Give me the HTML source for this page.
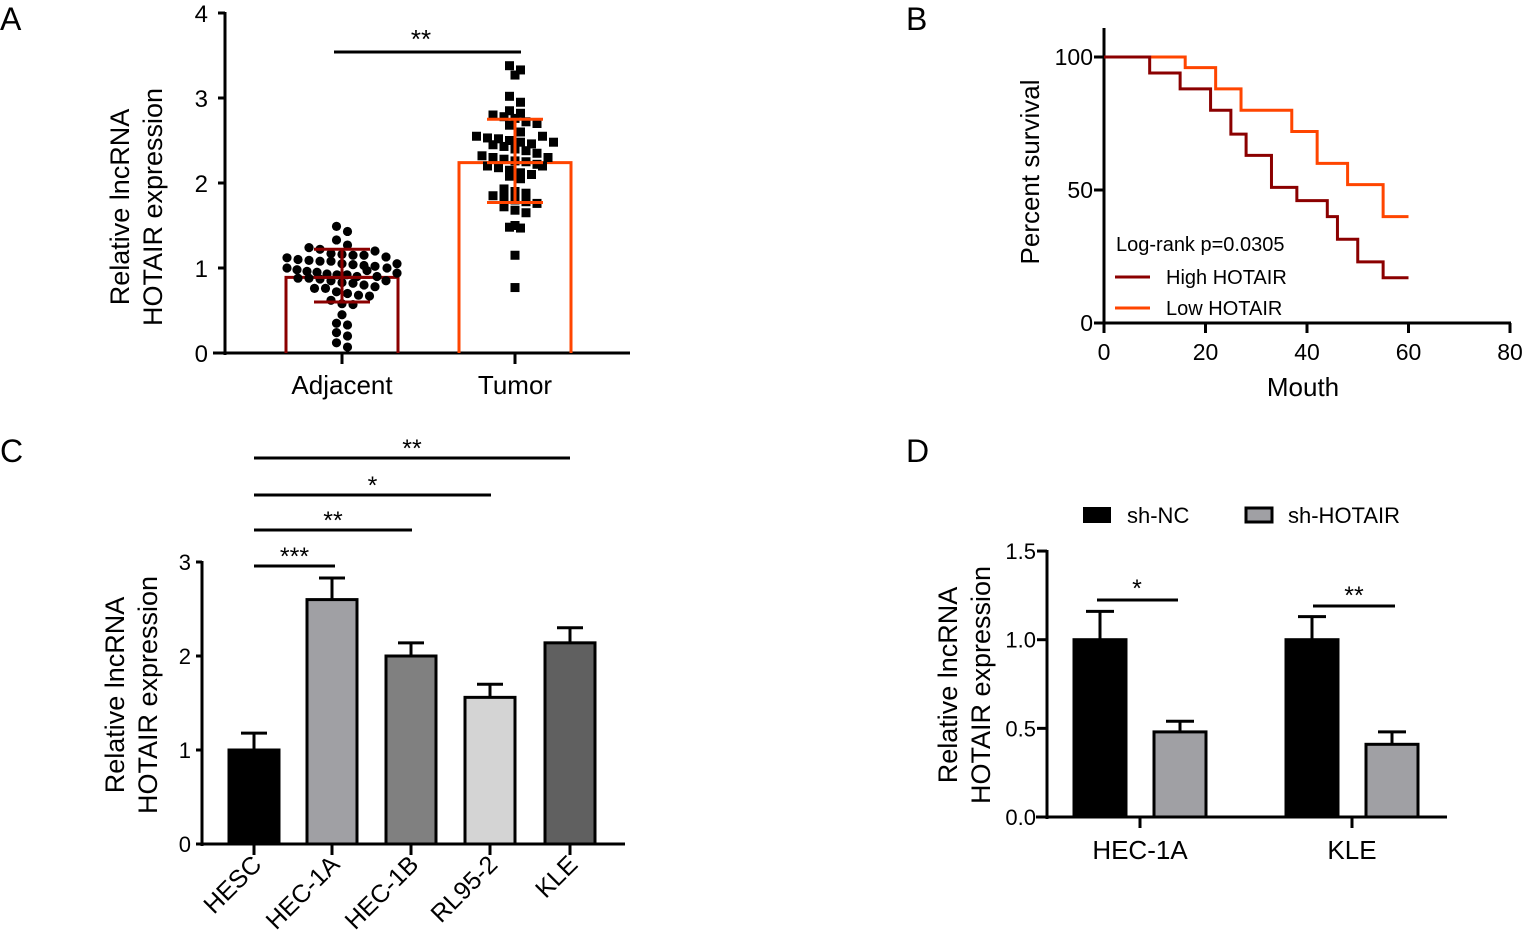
<!DOCTYPE html>
<html><head><meta charset="utf-8"><style>
html,body{margin:0;padding:0;background:#fff;}
svg{display:block;font-family:"Liberation Sans",Arial,sans-serif;}
</style></head><body>
<svg id="fig" width="1524" height="940" viewBox="0 0 1524 940" xmlns="http://www.w3.org/2000/svg">
<g id="A"></g>
<g id="B"></g>
<g id="C"></g>
<g id="D"></g>
</svg>
<script>
// Panel A data
const aGroups = ["Adjacent","Tumor"];
const aMeans = [0.89, 2.24];
const aSdLow = [0.60, 1.77];
const aSdHigh = [1.22, 2.75];
const aTicks = [0,1,2,3,4];
const adjacentPoints = [1.49,1.43,1.33,1.27,1.24,1.22,1.17,1.16,1.15,1.12,1.10,1.09,1.08,1.08,1.05,1.04,1.03,1.02,1.00,0.98,0.96,0.95,0.93,0.92,0.92,0.90,0.88,0.88,0.87,0.85,0.83,0.82,0.80,0.78,0.76,0.76,0.72,0.70,0.68,0.67,0.62,0.58,0.57,0.45,0.35,0.33,0.24,0.20,0.12,0.07,1.15,1.20,1.13,1.05,0.97,0.90,1.00,0.85,0.94];
const tumorPoints = [3.38,3.33,3.27,3.02,2.95,2.85,2.82,2.80,2.78,2.76,2.72,2.70,2.68,2.60,2.55,2.53,2.52,2.50,2.48,2.46,2.45,2.43,2.40,2.38,2.35,2.32,2.30,2.28,2.26,2.25,2.22,2.20,2.18,2.15,2.12,2.10,2.08,2.05,1.93,1.90,1.88,1.85,1.83,1.80,1.78,1.76,1.72,1.68,1.65,1.50,1.48,1.47,1.15,0.77,2.55,2.48,2.30,2.20];
// Panel B data
const highTimes = [0,9,15,21,25,28,33,38,44,46,50,55,60];
const highSurv = [100,94,88,80,71,63,51,46,40,31.5,23,17,17];
const lowTimes = [0,16,22,27,37,42,48,55,60];
const lowSurv = [100,96,88,80,72,60,52,40,40];
const bXTicks = [0,20,40,60,80];
const bYTicks = [0,50,100];
// Panel C data
const cCats = ["HESC","HEC-1A","HEC-1B","RL95-2","KLE"];
const cVals = [1.0,2.6,2.0,1.56,2.14];
const cErr = [0.18,0.23,0.14,0.14,0.16];
const cTicks = [0,1,2,3];
// Panel D data
const dCats = ["HEC-1A","KLE"];
const dNC = [1.0,1.0];
const dNCErr = [0.16,0.13];
const dSH = [0.48,0.41];
const dSHErr = [0.06,0.07];
const dTicks = ["0.0","0.5","1.0","1.5"];

const NS="http://www.w3.org/2000/svg";
function mk(parent,tag,attrs,text){const e=document.createElementNS(NS,tag);for(const k in attrs)e.setAttribute(k,attrs[k]);if(text!==undefined)e.textContent=text;parent.appendChild(e);return e;}
function line(p,x1,y1,x2,y2,c,w){return mk(p,'line',{x1,y1,x2,y2,stroke:c||'#000','stroke-width':w||3});}
function txt(p,x,y,s,size,anchor,extra){const a={x,y,'font-size':size,'text-anchor':anchor||'middle',fill:'#000'};if(extra)for(const k in extra)a[k]=extra[k];return mk(p,'text',a,s);}

// ===== Panel A =====
(function(){
const g=document.getElementById('A');
const y=v=>353-85*v;
let t=txt(g,0,30,'A',32,'start');


line(g,225,12,225,355);
line(g,213,353,630,353);
aTicks.forEach(v=>{line(g,218,y(v),225,y(v));let l=txt(g,208,y(v)+9,String(v),24,'end');

});
const centers=[342,515], half=56, cols=['#8b0000','#ff4500'];
aGroups.forEach((n,i)=>{
  const c=centers[i];
  line(g,c,353,c,364);
  const b=mk(g,'path',{d:`M${c-half},353 V${y(aMeans[i])} H${c+half} V353`,fill:'none',stroke:cols[i],'stroke-width':3});
  
  
  let l=txt(g,c,394,n,26);
  
  
});
function swarm(vals,c,shape){
  const bins={};
  vals.forEach(v=>{const k=Math.round(v/0.12);(bins[k]=bins[k]||[]).push(v);});
  Object.keys(bins).forEach(k=>{
    const arr=bins[k];
    const sp=arr.length>1?Math.min(11,110/(arr.length-1)):0;
    arr.forEach((v,j)=>{
      const off=(j-(arr.length-1)/2)*sp;
      let p;
      if(shape==='c') p=mk(g,'circle',{cx:c+off,cy:y(v),r:4.6,fill:'#000'});
      else p=mk(g,'rect',{x:c+off-4.5,y:y(v)-4.5,width:9,height:9,fill:'#000'});
      
      
    });
  });
}
swarm(adjacentPoints,342,'c');
swarm(tumorPoints,515,'s');
centers.forEach((c,i)=>{
  line(g,c,y(aSdLow[i]),c,y(aSdHigh[i]),cols[i],3);
  line(g,c-28,y(aSdLow[i]),c+28,y(aSdLow[i]),cols[i],3);
  line(g,c-28,y(aSdHigh[i]),c+28,y(aSdHigh[i]),cols[i],3);
  line(g,c-28,y(aMeans[i]),c+28,y(aMeans[i]),cols[i],3);
});
line(g,334,52,521,52,'#000',3);
txt(g,421,48,'**',26);
const yt=mk(g,'text',{transform:'translate(129,207) rotate(-90)','font-size':27,'text-anchor':'middle'});


mk(yt,'tspan',{x:0,y:0},'Relative lncRNA');
mk(yt,'tspan',{x:0,y:33},'HOTAIR expression');
})();

// ===== Panel B =====
(function(){
const g=document.getElementById('B');
const x=v=>1104+5.075*v, y=v=>323-2.66*v;
let t=txt(g,906,30,'B',32,'start');


line(g,1104,28,1104,325);
line(g,1102,323,1511,323);
bXTicks.forEach(v=>{line(g,x(v),323,x(v),333);let l=txt(g,x(v),360,String(v),23);

});
bYTicks.forEach(v=>{line(g,1094,y(v),1104,y(v));let l=txt(g,1093,y(v)+8,String(v),23,'end');

});
function steps(ts,ss){let d=`M${x(ts[0])},${y(ss[0])}`;for(let i=1;i<ts.length;i++){d+=` H${x(ts[i])} V${y(ss[i])}`;}return d;}
let lo=mk(g,'path',{d:steps(lowTimes,lowSurv),fill:'none',stroke:'#ff4500','stroke-width':3});


let hi=mk(g,'path',{d:steps(highTimes,highSurv),fill:'none',stroke:'#8b0000','stroke-width':3});


txt(g,1116,251,'Log-rank p=0.0305',20,'start');
line(g,1115,277,1150,277,'#8b0000',3);
let l1=txt(g,1166,284,'High HOTAIR',20,'start');


line(g,1115,308,1150,308,'#ff4500',3);
let l2=txt(g,1166,315,'Low HOTAIR',20,'start');


let xt=txt(g,1303,396,'Mouth',26);


let yt=mk(g,'text',{transform:'translate(1039,172) rotate(-90)','font-size':26,'text-anchor':'middle'},'Percent survival');


})();

// ===== Panel C =====
(function(){
const g=document.getElementById('C');
const y=v=>844-94*v;
const centers=[254,332,411,490,570];
const fills=['#000','#a0a0a4','#808080','#d4d4d4','#606060'];
let t=txt(g,0,462,'C',32,'start');


line(g,202,561,202,846);
line(g,196,844,625,844);
cTicks.forEach(v=>{line(g,196,y(v),202,y(v));let l=txt(g,191,y(v)+8,String(v),22,'end');

});
cCats.forEach((n,i)=>{
  const c=centers[i];
  line(g,c,y(cVals[i]),c,y(cVals[i]+cErr[i]));
  line(g,c-13,y(cVals[i]+cErr[i]),c+13,y(cVals[i]+cErr[i]));
  const b=mk(g,'rect',{x:c-25,y:y(cVals[i]),width:50,height:844-y(cVals[i]),fill:fills[i],stroke:'#000','stroke-width':3});
  
  
  line(g,c,844,c,855);
  const l=txt(g,0,0,n,25,'end',{transform:`translate(${c+9},${866}) rotate(-45)`});
  
  
});
[[566,335,'***'],[530,412,'**'],[495,491,'*'],[458,570,'**']].forEach(s=>{
  line(g,254,s[0],s[1],s[0]);
  txt(g,(254+s[1])/2,s[0]-1,s[2],25);
});
const yt=mk(g,'text',{transform:'translate(124,695) rotate(-90)','font-size':27,'text-anchor':'middle'});


mk(yt,'tspan',{x:0,y:0},'Relative lncRNA');
mk(yt,'tspan',{x:0,y:33},'HOTAIR expression');
})();

// ===== Panel D =====
(function(){
const g=document.getElementById('D');
const y=v=>817-177.3*v;
let t=txt(g,906,462,'D',32,'start');


line(g,1047,550,1047,819);
line(g,1036,817,1447,817);
dTicks.forEach(s=>{const v=parseFloat(s);line(g,1037,y(v),1047,y(v));let l=txt(g,1036,y(v)+8,s,22,'end');

});
const centers=[1140,1352];
dCats.forEach((n,i)=>{
  const c=centers[i];
  const xn=c-40, xs=c+40;
  line(g,xn,y(dNC[i]),xn,y(dNC[i]+dNCErr[i]));
  line(g,xn-14,y(dNC[i]+dNCErr[i]),xn+14,y(dNC[i]+dNCErr[i]));
  line(g,xs,y(dSH[i]),xs,y(dSH[i]+dSHErr[i]));
  line(g,xs-14,y(dSH[i]+dSHErr[i]),xs+14,y(dSH[i]+dSHErr[i]));
  const b1=mk(g,'rect',{x:xn-26,y:y(dNC[i]),width:52,height:817-y(dNC[i]),fill:'#000',stroke:'#000','stroke-width':3});
  
  
  const b2=mk(g,'rect',{x:xs-26,y:y(dSH[i]),width:52,height:817-y(dSH[i]),fill:'#a0a0a4',stroke:'#000','stroke-width':3});
  
  
  line(g,c,817,c,828);
  const l=txt(g,c,859,n,26);
  
  
});
line(g,1097,600,1178,600);txt(g,1137,597,'*',25);
line(g,1313,606,1395,606);txt(g,1354,604,'**',25);
mk(g,'rect',{x:1083,y:507,width:28,height:16,fill:'#000'});
let l1=txt(g,1127,523,'sh-NC',22,'start');


mk(g,'rect',{x:1246,y:508,width:26,height:14,fill:'#a0a0a4',stroke:'#000','stroke-width':3});
let l2=txt(g,1288,523,'sh-HOTAIR',22,'start');


const yt=mk(g,'text',{transform:'translate(957,685) rotate(-90)','font-size':27,'text-anchor':'middle'});


mk(yt,'tspan',{x:0,y:0},'Relative lncRNA');
mk(yt,'tspan',{x:0,y:33},'HOTAIR expression');
})();
</script>
</body></html>
